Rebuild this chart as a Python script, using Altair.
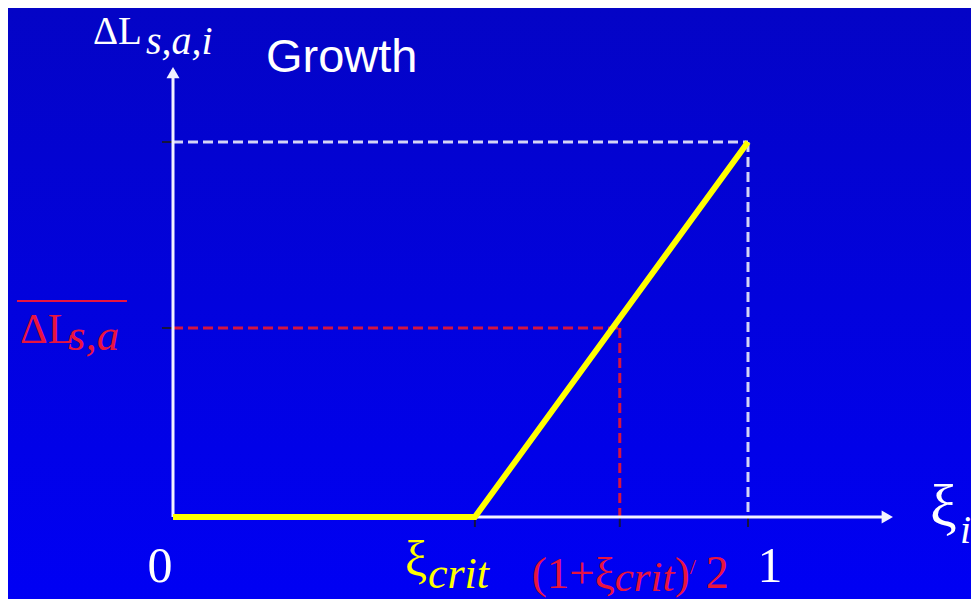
import altair as alt
import pandas as pd

# ---------------- values ----------------
xi_crit = 0.525        # critical value on the x axis
xi_mid = 0.777         # (1 + xi_crit) / 2 position
growth_max = 1.0       # growth reached at xi = 1
mean_level = 0.504     # mean growth level
x_axis_end = 1.252     # x-axis arrow tip
y_axis_end = 1.2       # y-axis arrow tip

line_x = [0.0, xi_crit, 1.0]
line_y = [0.0, 0.0, growth_max]

x_tick_values = [xi_crit, xi_mid, 1.0]
y_tick_values = [growth_max, mean_level]

title_text = "Growth"
y_title_main, y_title_sub = "ΔL", "s,a,i"
x_title_main, x_title_sub = "ξ", "i"
mean_main, mean_sub = "ΔL", "s,a"
zero_text, one_text = "0", "1"
crit_main, crit_sub = "ξ", "crit"
mid_parts = ["(1+ξ", "crit", ")", "/", "2"]

# ---------------- layout (pixels) ----------------
W, H = 963, 591
X0_PX, PX_X = 165, 575.0
Y0_PX, PX_Y = 509, 375.0
xs = alt.Scale(domain=[-X0_PX / PX_X, (W - X0_PX) / PX_X], nice=False, zero=False)
ys = alt.Scale(domain=[-(H - Y0_PX) / PX_Y, Y0_PX / PX_Y], nice=False, zero=False)

SERIF = "Liberation Serif"
SANS = "Liberation Sans"
WHITE = "#FFFFFF"
AXIS_WHITE = "#F2F2FF"
DASH_WHITE = "#D4D4F6"
RED = "#E8143F"
DASH_RED = "#D61440"
YELLOW = "#FFFF00"
TICK_DARK = "#141440"


def X(f, **kw):
    return alt.X(f, type="quantitative", scale=xs, axis=None, **kw)


def Y(f, **kw):
    return alt.Y(f, type="quantitative", scale=ys, axis=None, **kw)


def segs(rows):
    return pd.DataFrame(rows, columns=["x", "y", "x2", "y2"])


def rule_layer(df, **mk):
    return alt.Chart(df).mark_rule(**mk).encode(
        x=X("x"), y=Y("y"), x2="x2:Q", y2="y2:Q"
    )


def label(text, ax, ay, dx, dy, size, color, font=SERIF, style="normal", align="left"):
    df = pd.DataFrame({"x": [ax], "y": [ay], "t": [text]})
    return alt.Chart(df).mark_text(
        dx=dx, dy=dy, fontSize=size, color=color, font=font, fontStyle=style,
        align=align, baseline="alphabetic"
    ).encode(x=X("x"), y=Y("y"), text="t:N")


# background gradient
bg = alt.Chart(pd.DataFrame({"a": [0]})).mark_rect(
    fill=alt.Gradient(
        gradient="linear",
        stops=[alt.GradientStop(color="#0404C6", offset=0),
               alt.GradientStop(color="#0000F4", offset=1)],
        x1=0, x2=0, y1=0, y2=1,
    )
).encode(x=alt.value(0), x2=alt.value(W), y=alt.value(0), y2=alt.value(H))

# dashed guide lines
white_dash = rule_layer(
    segs([[0.0, growth_max, 1.0, growth_max], [1.0, growth_max, 1.0, 0.0]]),
    color=DASH_WHITE, strokeWidth=3, strokeDash=[10, 5],
)
red_dash = rule_layer(
    segs([[0.0, mean_level, xi_mid, mean_level], [xi_mid, mean_level, xi_mid, 0.0]]),
    color=DASH_RED, strokeWidth=3, strokeDash=[10, 5],
)

# small dark tick marks
tick_rows = [[v, 0.0, v, -10 / PX_Y] for v in x_tick_values] + \
            [[-11 / PX_X, v, 0.0, v] for v in y_tick_values]
ticks = rule_layer(segs(tick_rows), color=TICK_DARK, strokeWidth=2)

# axes with arrow heads
HEAD = 5.6
axes = rule_layer(
    segs([[0.0, 0.0, x_axis_end - HEAD / PX_X, 0.0],
          [0.0, 0.0, 0.0, y_axis_end - HEAD / PX_Y]]),
    color=AXIS_WHITE, strokeWidth=3,
)
arrow_x = alt.Chart(pd.DataFrame({"x": [x_axis_end - HEAD / PX_X], "y": [0.0]})).mark_point(
    shape="triangle-right", size=170, filled=True, color=AXIS_WHITE, opacity=1
).encode(x=X("x"), y=Y("y"))
arrow_y = alt.Chart(pd.DataFrame({"x": [0.0], "y": [y_axis_end - HEAD / PX_Y]})).mark_point(
    shape="triangle-up", size=170, filled=True, color=AXIS_WHITE, opacity=1
).encode(x=X("x"), y=Y("y"))

# growth curve
curve = alt.Chart(pd.DataFrame({"x": line_x, "y": line_y, "i": range(len(line_x))})).mark_line(
    color=YELLOW, strokeWidth=6, strokeJoin="miter"
).encode(x=X("x"), y=Y("y"), order="i:Q")

# overline over the mean label
overline = rule_layer(
    segs([[-156 / PX_X, mean_level + 27 / PX_Y, -46 / PX_X, mean_level + 27 / PX_Y]]),
    color=RED, strokeWidth=2,
)

texts = [
    label(title_text, 0.0, y_axis_end, 93, 5, 47, WHITE, font=SANS),
    label(y_title_main, 0.0, y_axis_end, -80, -23, 39, WHITE),
    label(y_title_sub, 0.0, y_axis_end, -27, -13, 40, WHITE, style="italic"),
    label(mean_main, 0.0, mean_level, -153, 15, 43, RED),
    label(mean_sub, 0.0, mean_level, -105, 22, 45, RED, style="italic"),
    label(zero_text, 0.0, 0.0, -13, 65, 50, WHITE, align="center"),
    label(one_text, 1.0, 0.0, 22, 65, 50, WHITE, align="center"),
    label(crit_main, xi_crit, 0.0, -70, 59, 50, YELLOW),
    label(crit_sub, xi_crit, 0.0, -47, 71, 44, YELLOW, style="italic"),
    label(mid_parts[0], xi_mid, 0.0, -88, 71, 45, RED),
    label(mid_parts[1], xi_mid, 0.0, -5, 74, 43, RED, style="italic"),
    label(mid_parts[2], xi_mid, 0.0, 55, 71, 45, RED),
    label(mid_parts[3], xi_mid, 0.0, 70, 57, 22, RED),
    label(mid_parts[4], xi_mid, 0.0, 86, 71, 46, RED),
    label(x_title_main, x_axis_end, 0.0, 37, 9, 60, WHITE),
    label(x_title_sub, x_axis_end, 0.0, 67, 26, 40, WHITE, style="italic"),
]

chart = alt.layer(
    bg, white_dash, red_dash, ticks, axes, arrow_x, arrow_y, curve, overline, *texts
).properties(
    width=W, height=H, padding=0,
    autosize=alt.AutoSizeParams(type="none"),
    background="#0202DC",
).configure_view(stroke=None)

chart.save("out.html", embed_options={"renderer": "svg", "actions": False})
